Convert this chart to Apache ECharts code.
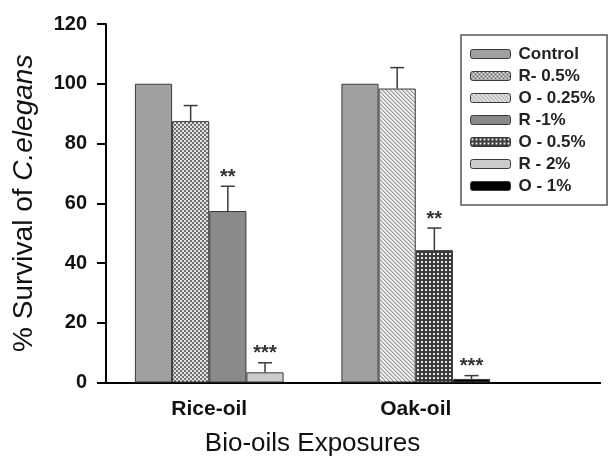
<!DOCTYPE html>
<html><head><meta charset="utf-8">
<script src="https://cdn.jsdelivr.net/npm/echarts@6/dist/echarts.min.js"></script>
<style>html,body{margin:0;padding:0;background:#fff}#c{width:609px;height:456px}</style>
</head><body><div id="c"></div>
<script>
// ---- data ----
const categories = ['Rice-oil', 'Oak-oil'];
const seriesNames = ['Control', 'R- 0.5%', 'O - 0.25%', 'R -1%', 'O - 0.5%', 'R - 2%', 'O - 1%'];
const control = [100, 100];
const r05 = [87.5, null];
const o025 = [null, 98.4];
const r1 = [57.4, null];
const o05 = [null, 44.3];
const r2 = [3.4, null];
const o1 = [null, 1.2];
const controlErr = [0, 0];
const r05Err = [5.2, null];
const o025Err = [null, 7.0];
const r1Err = [8.3, null];
const o05Err = [null, 7.4];
const r2Err = [3.2, null];
const o1Err = [null, 1.1];
const r1Star = ['**', null];
const o05Star = [null, '**'];
const r2Star = ['***', null];
const o1Star = [null, '***'];
const yTicks = [0, 20, 40, 60, 80, 100, 120];

// ---- patterns ----
function tile(size, draw) {
  const c = document.createElement('canvas');
  c.width = size; c.height = size;
  const g = c.getContext('2d');
  draw(g, size);
  return { image: c, repeat: 'repeat' };
}
const pControl = tile(4, (g) => { g.fillStyle = '#a2a2a2'; g.fillRect(0,0,4,4); g.fillStyle = '#979797'; g.fillRect(0,0,1,1); g.fillRect(2,2,1,1); });
const pR05 = tile(4, (g) => { g.fillStyle = '#707070'; g.fillRect(0,0,4,4); g.fillStyle = '#e4e4e4'; g.fillRect(0,0,2,2); g.fillRect(2,2,2,2); });
const pO025 = tile(4, (g) => { g.fillStyle = '#f2f2f2'; g.fillRect(0,0,4,4); g.fillStyle = '#9a9a9a'; g.fillRect(0,0,1,1); g.fillRect(1,1,1,1); g.fillRect(2,2,1,1); g.fillRect(3,3,1,1); g.fillStyle='#c4c4c4'; g.fillRect(1,0,1,1); g.fillRect(2,1,1,1); g.fillRect(3,2,1,1); g.fillRect(0,3,1,1);});
const pR1 = '#8a8a8a';
const pO05 = tile(4, (g) => { g.fillStyle = '#3a3a3a'; g.fillRect(0,0,4,4); g.fillStyle = '#e8e8e8'; g.fillRect(1,1,2,2); });
const pR2 = '#cbcbcb';
const pO1 = '#000000';
const fills = [pControl, pR05, pO025, pR1, pO05, pR2, pO1];
const values = [control, r05, o025, r1, o05, r2, o1];
const errs = [controlErr, r05Err, o025Err, r1Err, o05Err, r2Err, o1Err];
const stars = [[null, null], [null, null], [null, null], r1Star, o05Star, r2Star, o1Star];
const stacks = ['s1', 's2', 's2', 's3', 's3', 's4', 's4'];
const slotOf = [0, 1, 1, 2, 2, 3, 3];

const FONT = "'Liberation Sans', Arial, sans-serif";
const BARPCT = 0.18;

const barSeries = seriesNames.map((n, i) => ({
  name: n, type: 'bar', stack: stacks[i], barWidth: (BARPCT * 100) + '%', barGap: '0%',
  data: values[i],
  itemStyle: { color: fills[i], borderColor: '#3a3a3a', borderWidth: 1 }
}));

const errData = [];
seriesNames.forEach((n, i) => {
  categories.forEach((c, g) => {
    const v = values[i][g];
    const e = errs[i][g];
    if (v != null && e) errData.push([g, v, e, slotOf[i], stars[i][g] || '']);
  });
});

const errSeries = {
  type: 'custom', silent: true, z: 5,
  data: errData,
  renderItem: function (params, api) {
    const g = api.value(0), v = api.value(1), e = api.value(2), k = api.value(3);
    const s = errData[params.dataIndex][4];
    const band = api.size([1, 0])[0];
    const bw = band * BARPCT;
    const base = api.coord([g, v]);
    const top = api.coord([g, v + e]);
    const x = base[0] + (k - 1.5) * bw;
    const children = [
      { type: 'line', shape: { x1: x, y1: base[1], x2: x, y2: top[1] }, style: { stroke: '#3a3a3a', lineWidth: 1.5 } },
      { type: 'line', shape: { x1: x - 7, y1: top[1], x2: x + 7, y2: top[1] }, style: { stroke: '#3a3a3a', lineWidth: 1.5 } }
    ];
    if (s) children.push({ type: 'text', style: { text: s, x: x, y: top[1] + 1, align: 'center', verticalAlign: 'bottom', font: 'bold 20px ' + FONT, fill: '#333' } });
    return { type: 'group', children: children };
  }
};

const chart = echarts.init(document.getElementById('c'), null, { renderer: 'canvas' });
chart.setOption({
  backgroundColor: '#fff',
  animation: false,
  grid: { left: 106, top: 24, width: 413, bottom: 73.5, containLabel: false, outerBoundsMode: 'none' },
  legend: {
    orient: 'vertical', left: 461, top: 35,
    data: seriesNames,
    itemWidth: 40, itemHeight: 9, itemGap: 4,
    padding: [10, 12, 10, 9],
    borderColor: '#555', borderWidth: 1.5,
    textStyle: { fontFamily: FONT, fontSize: 17, lineHeight: 18, fontWeight: 'bold', color: '#222', padding: [0, 0, 0, 3] },
    itemStyle: { borderColor: '#3a3a3a', borderWidth: 1 }
  },
  xAxis: {
    type: 'category', data: categories,
    axisLine: { lineStyle: { color: '#000', width: 2 } },
    axisTick: { show: false },
    axisLabel: { fontFamily: FONT, fontSize: 21, fontWeight: 'bold', color: '#111', margin: 16 },
    name: 'Bio-oils Exposures', nameLocation: 'middle', nameGap: 48,
    nameTextStyle: { fontFamily: FONT, fontSize: 26, color: '#111' }
  },
  yAxis: {
    type: 'value', min: 0, max: 120, interval: 20,
    splitLine: { show: false },
    axisLine: { show: true, lineStyle: { color: '#000', width: 2 } },
    axisTick: { show: true, length: 9, lineStyle: { color: '#000', width: 2 } },
    axisLabel: { fontFamily: FONT, fontSize: 20, fontWeight: 'bold', color: '#111', margin: 19,
      formatter: (v) => yTicks.indexOf(v) >= 0 ? String(v) : '' },
    name: '% Survival of {i|C.elegans}', nameLocation: 'middle', nameGap: 68, nameRotate: 90,
    nameTextStyle: { fontFamily: FONT, fontSize: 28, color: '#111',
      rich: { i: { fontFamily: FONT, fontSize: 28, fontStyle: 'italic', color: '#111' } } }
  },
  series: barSeries.concat([errSeries])
});
// extend x axis line to the right like the original
const y0 = Math.round(chart.convertToPixel({ yAxisIndex: 0 }, 0));
const gridRect = chart.getModel().getComponent('grid', 0).coordinateSystem.getRect();
chart.setOption({ graphic: [{ type: 'line', shape: { x1: Math.round(gridRect.x + gridRect.width) - 2, y1: y0, x2: 601, y2: y0 }, style: { stroke: '#000', lineWidth: 2 }, z: 10 }] });
</script></body></html>
